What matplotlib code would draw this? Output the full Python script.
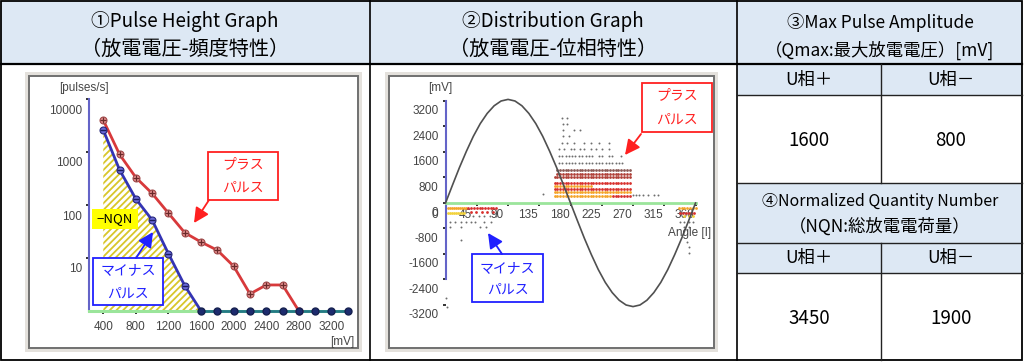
import matplotlib
matplotlib.use('Agg')
import matplotlib.pyplot as plt
from matplotlib.patches import Rectangle
from matplotlib.transforms import ScaledTranslation
from matplotlib.ticker import NullLocator

plt.rcParams['font.family'] = ['Noto Sans CJK JP', 'DejaVu Sans']
plt.rcParams['hatch.linewidth'] = 1.3

W, H = 1024, 362

# ---- ① pulse height graph data (mV vs pulses/s, log)
ph_mv = [400, 600, 800, 1000, 1200, 1400, 1600, 1800, 2000, 2200, 2400, 2600,
         2800, 3000, 3200, 3400]
plus_rate = [4000, 900, 330, 165, 70, 30, 20, 14, 7, 2.1, 3.1, 3.1, 1]
minus_rate = [2600, 460, 130, 52, 12, 3, 1, 1, 1, 1, 1, 1, 1, 1, 1, 1]
ph_xticks = [400, 800, 1200, 1600, 2000, 2400, 2800, 3200]
ph_yticks = [10, 100, 1000, 10000]

# ---- ② distribution graph data (phase angle vs mV)
ref_angle = [0, 10, 20, 30, 40, 50, 60, 70, 80, 90, 100, 110, 120, 130, 140, 150,
             160, 170, 180, 190, 200, 210, 220, 230, 240, 250, 260, 270, 280, 290,
             300, 310, 320, 330, 340, 350, 360]
ref_mv = [0, 560, 1110, 1620, 2090, 2490, 2810, 3050, 3200, 3250, 3200, 3050, 2810,
          2490, 2090, 1620, 1110, 560, 0, -560, -1110, -1620, -2090, -2490, -2810,
          -3050, -3200, -3250, -3200, -3050, -2810, -2490, -2090, -1620, -1110, -560, 0]
pos_bins = [157, 161, 165, 169, 173, 177, 181, 185, 189, 193, 197, 201, 205, 209,
            213, 217, 221, 225, 229, 233, 237, 241, 245, 249, 253, 257, 261, 265]
# (mV, colour, phase angles)
pd_rows = [
    (220, 'orange', pos_bins[:21]), (220, 'red', pos_bins[21:]),
    (330, 'orange', pos_bins),
    (450, 'red', pos_bins), (520, 'orange', pos_bins[:14]),
    (640, 'red', pos_bins),
    (800, 'darkred', pos_bins), (920, 'darkred', pos_bins[1:]),
    (1050, 'brown', pos_bins[1:]),
    (1250, 'gray', [163, 168, 173, 178, 182, 187, 192, 197, 202, 207, 211, 216, 221,
                    226, 231, 235, 240, 245, 250, 254]),
    (1470, 'gray', [163, 168, 173, 178, 182, 187, 192, 197, 202, 207, 211, 221, 226,
                    235, 240, 252]),
    (1680, 'gray', [163, 170, 180, 185, 194, 199, 209, 216, 226, 235]),
    (1870, 'gray', [168, 175, 185, 199, 209, 221, 235]),
    (2100, 'gray', [169, 178]),
    (2290, 'gray', [169, 185, 194]),
    (2480, 'gray', [169, 175]),
    (2660, 'gray', [168, 175]),
    (250, 'gray', [270, 274, 279, 285, 292, 300, 306]),
    (280, 'gray', [141]),
    # negative pulses
    (-170, 'orange', [3, 6, 9, 12, 15, 18, 21, 24, 27, 30]),
    (-300, 'yellow', [3, 6, 9, 12, 15, 18, 21, 24, 27]),
    (-170, 'red', [33, 37, 41, 45, 49, 53, 57, 61, 65, 69, 73]),
    (-270, 'red', [36, 44, 52, 60, 68]),
    (-400, 'gray', [40, 48, 56, 64, 72]),
    (-590, 'gray', [7, 14, 22, 29, 36, 43, 55, 65]),
    (-740, 'gray', [7, 22, 50, 58]),
    (-1160, 'gray', [22]),
    (-2980, 'gray', [1]),
    (-3250, 'gray', [2]),
    (-150, 'orange', [336, 340, 344, 348, 352, 356, 360]),
    (-300, 'red', [338, 342, 346, 350, 354, 358]),
    (-420, 'yellow', [344, 350, 356]),
    (-600, 'gray', [338, 343, 350, 356]),
    (-750, 'gray', [343, 350]),
    (-1210, 'gray', [348]),
    (-1370, 'gray', [350]),
    (-1560, 'gray', [350]),
]
pd_colors = {'orange': '#f4a428', 'yellow': '#f2d23a', 'red': '#d8302c',
             'darkred': '#b04038', 'brown': '#8a5a55', 'gray': '#6e6e6e'}
pd_xticks = [0, 45, 90, 135, 180, 225, 270, 315, 360]
pd_yticks = [3200, 2400, 1600, 800, 0, -800, -1600, -2400, -3200]

# ---- ③ ④ table values
phases = ['U相＋', 'U相－']
qmax = ['1600', '800']
nqn = ['3450', '1900']

fig = plt.figure(figsize=(W / 100, H / 100), dpi=100)
bg = fig.add_axes([0, 0, 1, 1])
bg.set_xlim(0, W)
bg.set_ylim(H, 0)
bg.axis('off')

hdr = '#dde8f4'
# header / table backgrounds
for l, t, r, b in [(1, 1, 737, 64), (737, 1, 1022, 95), (737, 183, 1022, 273)]:
    bg.add_patch(Rectangle((l, t), r - l, b - t, fc=hdr, ec='none'))
# table lines
bg.add_patch(Rectangle((1, 1), 1021, 359, fc='none', ec='black', lw=1.3))
for x in [370, 737]:
    bg.plot([x, x], [1, 360], color='black', lw=1.2)
bg.plot([1, 1022], [64, 64], color='black', lw=1.6)
for y in [95, 183, 243, 273]:
    bg.plot([737, 1022], [y, y], color='#222222', lw=1.0)
bg.plot([881, 881], [64, 183], color='#222222', lw=1.0)
bg.plot([881, 881], [243, 360], color='#222222', lw=1.0)

tk = dict(ha='center', va='center', color='black')
bg.text(185, 22, '①Pulse Height Graph', fontsize=13.5, **tk)
bg.text(185, 49, '（放電電圧-頻度特性）', fontsize=14.5, **tk)
bg.text(553, 22, '②Distribution Graph', fontsize=13.5, **tk)
bg.text(553, 49, '（放電電圧-位相特性）', fontsize=14.5, **tk)
bg.text(880, 22, '③Max Pulse Amplitude', fontsize=12.5, **tk)
bg.text(880, 50, '（Qmax:最大放電電圧）[mV]', fontsize=12.5, **tk)
bg.text(880, 201, '④Normalized Quantity Number', fontsize=11.5, **tk)
bg.text(880, 227, '（NQN:総放電電荷量）', fontsize=12.5, **tk)
for cx, ph, q, n in zip([809, 951], phases, qmax, nqn):
    bg.text(cx, 80, ph, fontsize=12.5, **tk)
    bg.text(cx, 258, ph, fontsize=12.5, **tk)
    bg.text(cx, 141, q, fontsize=13.5, **tk)
    bg.text(cx, 318, n, fontsize=13.5, **tk)

# picture frames
for l, t, r, b in [(25, 72, 362, 352), (385, 72, 718, 352)]:
    bg.add_patch(Rectangle((l, t), r - l, b - t, fc='#e4e1dc', ec='none'))
    bg.add_patch(Rectangle((l + 4, t + 4), r - l - 8, b - t - 8, fc='white',
                           ec='#707070', lw=1.4))

num_font = ['Liberation Sans', 'DejaVu Sans']
gray_txt = '#454545'


def pbox(l, t, r, b):
    return [l / W, 1 - b / H, (r - l) / W, (b - t) / H]


def shift_labels(labels, dx, dy):
    for lab in labels:
        lab.set_transform(lab.get_transform() +
                          ScaledTranslation(dx / 100, dy / 100, fig.dpi_scale_trans))


def callout(ax, l, t, r, b, lines, ys, color, start, tip):
    ax.add_patch(Rectangle((l, t), r - l, b - t, transform=bg.transData, fc='white',
                           ec=color, lw=1.3, clip_on=False, zorder=6))
    for s, y in zip(lines, ys):
        ax.text((l + r) / 2, y, s, transform=bg.transData, color=color, ha='center',
                va='center', fontsize=10, zorder=7, clip_on=False)
    ax.annotate('', xy=tip, xytext=start, xycoords=bg.transData,
                textcoords=bg.transData, annotation_clip=False, zorder=7,
                arrowprops=dict(arrowstyle='-|>,head_length=0.9,head_width=0.45',
                                color=color, lw=1.3, shrinkA=0, shrinkB=0))


# ---------------- ① pulse height graph
ax1 = fig.add_axes(pbox(89, 99, 350, 311))
ax1.set_facecolor('none')
ax1.set_yscale('log')
ax1.set_xlim(225, 3427)
ax1.set_ylim(1, 10000)
for s in ['top', 'right']:
    ax1.spines[s].set_visible(False)
ax1.spines['left'].set_color('#6464c8')
ax1.spines['left'].set_linewidth(1.5)
ax1.spines['bottom'].set_color('#9be59b')
ax1.spines['bottom'].set_linewidth(2.2)
ax1.set_xticks(ph_xticks)
ax1.set_xticklabels([str(v) for v in ph_xticks], family=num_font)
ax1.set_yticks(ph_yticks)
ax1.set_yticklabels([str(v) for v in ph_yticks], family=num_font)
ax1.yaxis.set_minor_locator(NullLocator())
ax1.tick_params(length=2, width=1.4, color='#333333', labelsize=8.5,
                labelcolor=gray_txt, pad=3)
ax1.tick_params(axis='x', pad=5)
shift_labels(ax1.get_yticklabels(), 0, -10)

n_minus_fill = minus_rate.index(1) + 1
ax1.fill_between(ph_mv[:n_minus_fill], minus_rate[:n_minus_fill], 1, facecolor='none',
                 edgecolor='#d8c62a', hatch='/////', lw=0, zorder=1)
ax1.plot(ph_mv[:len(plus_rate)], plus_rate, color='#d8393b', lw=2, zorder=3,
         clip_on=False)
ax1.plot(ph_mv[:len(plus_rate)], plus_rate, 'o', ms=5, mfc='#e79090', mec='#a04848',
         mew=0.8, zorder=4, clip_on=False)
ax1.plot(ph_mv[:len(plus_rate)], plus_rate, '+', ms=4, mec='#6a2a2a', mew=0.9,
         zorder=4, clip_on=False)
ax1.plot(ph_mv[:n_minus_fill], minus_rate[:n_minus_fill], color='#3434b4', lw=2,
         zorder=3, clip_on=False)
ax1.plot(ph_mv[n_minus_fill - 1:], minus_rate[n_minus_fill - 1:], color='#237a86',
         lw=2, zorder=3, clip_on=False)
ax1.plot(ph_mv[:n_minus_fill - 1], minus_rate[:n_minus_fill - 1], 'o', ms=5,
         mfc='#6a6ad8', mec='#25257a', mew=0.8, zorder=4, clip_on=False)
ax1.plot(ph_mv[:n_minus_fill - 1], minus_rate[:n_minus_fill - 1], '_', ms=4,
         mec='#1c1c60', mew=1.0, zorder=4, clip_on=False)
ax1.plot(ph_mv[n_minus_fill - 1:], minus_rate[n_minus_fill - 1:], 'o', ms=5,
         mfc='#1d2b6e', mec='#16204f', zorder=4, clip_on=False)

ax1.add_patch(Rectangle((92, 209), 46, 20, transform=bg.transData, fc='#ffff00',
                        ec='none', clip_on=False, zorder=5))
ax1.text(115, 219, '−NQN', transform=bg.transData, ha='center', va='center',
         fontsize=9.5, color='black', zorder=6, clip_on=False)
callout(ax1, 208, 152, 278, 200, ['プラス', 'パルス'], [164, 188], '#ff2020',
        (209, 200), (194, 223))
callout(ax1, 93, 258, 163, 305, ['マイナス', 'パルス'], [270, 294], '#2020ff',
        (136, 258), (153, 232))
bg.text(84, 88, '[pulses/s]', ha='center', va='center', fontsize=8.5,
        color=gray_txt, family=num_font)
bg.text(342, 342, '[mV]', ha='center', va='center', fontsize=8.5, color=gray_txt,
        family=num_font)

# ---------------- ② distribution graph
ax2 = fig.add_axes(pbox(389, 76, 714, 348))
ax2.set_facecolor('none')
ax2.set_xlim(-81.4, 386.6)
ax2.set_ylim(-4549, 3984)
for s in ['top', 'right']:
    ax2.spines[s].set_visible(False)
ax2.spines['left'].set_position(('data', 0))
ax2.spines['left'].set_bounds(-2400, 3200)
ax2.spines['left'].set_color('#6464c8')
ax2.spines['left'].set_linewidth(1.5)
ax2.spines['bottom'].set_position(('data', 0))
ax2.spines['bottom'].set_bounds(0, 360)
ax2.spines['bottom'].set_color('#9be59b')
ax2.spines['bottom'].set_linewidth(2)
ax2.set_xticks(pd_xticks)
ax2.set_xticklabels([str(v) for v in pd_xticks], family=num_font)
ax2.set_yticks(pd_yticks)
ax2.set_yticklabels([str(v) for v in pd_yticks], family=num_font)
ax2.tick_params(length=2, width=1.4, color='#333333', labelsize=8.5,
                labelcolor=gray_txt, pad=3)
ax2.tick_params(axis='x', pad=2)
shift_labels(ax2.get_yticklabels(), 0, -9)
shift_labels(ax2.get_xticklabels(), -11, 0)

for mv, ck, angles in pd_rows:
    big = ck != 'gray'
    ax2.scatter(angles, [mv] * len(angles), s=4 if big else 2, c=pd_colors[ck],
                marker='o', linewidths=0, zorder=2)
ax2.plot(ref_angle, ref_mv, color='#505050', lw=1.2, zorder=3)

callout(ax2, 642, 83, 712, 132, ['プラス', 'パルス'], [95, 120], '#ff2020',
        (641, 134), (625, 155))
callout(ax2, 472, 254, 543, 302, ['マイナス', 'パルス'], [268, 290], '#2020ff',
        (502, 254), (488, 233))
bg.text(440, 88, '[mV]', ha='center', va='center', fontsize=8.5, color=gray_txt,
        family=num_font)
ax2.text(690, 233, 'Angle [I]', transform=bg.transData, ha='center', va='center',
         fontsize=8.5, color=gray_txt, family=num_font, zorder=5, clip_on=False)

fig.savefig('out.png', dpi=100)
